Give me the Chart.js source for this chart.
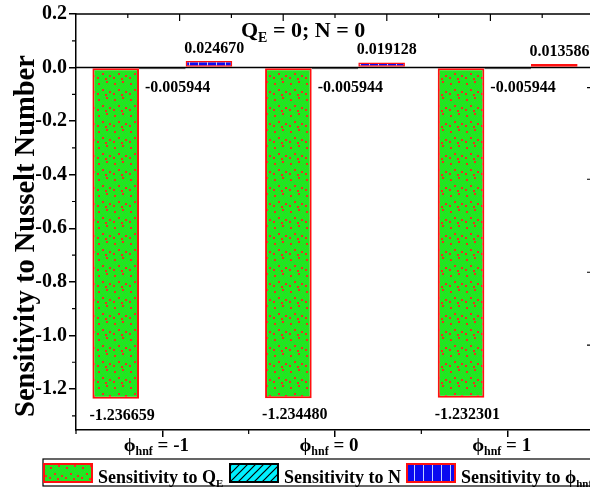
<!DOCTYPE html>
<html>
<head>
<meta charset="utf-8">
<script src="https://cdn.jsdelivr.net/npm/chart.js@4/dist/chart.umd.min.js"></script>
<style>
  html, body { margin: 0; padding: 0; overflow: hidden; background: #fff; }
  #wrap { position: relative; width: 600px; height: 498px; }
</style>
</head>
<body>
<div id="wrap"><canvas id="chart"></canvas></div>
<script>
// ϕhnf values along the x axis
const categories = ['-1', '0', '1'];
// Sensitivity of the Nusselt number to each parameter
const sensQE  = [-1.236659, -1.234480, -1.232301];
const sensN   = [-0.005944, -0.005944, -0.005944];
const sensPhi = [0.024670, 0.019128, 0.013586];
// Left axis tick labels
const yTicks = [0.2, 0.0, -0.2, -0.4, -0.6, -0.8, -1.0, -1.2];
const yMinor = [0.1, -0.1, -0.3, -0.5, -0.7, -0.9, -1.1, -1.3];
const yMin = -1.353, yMax = 0.2;

const SERIF = '"Liberation Serif", "Times New Roman", serif';

function makePattern(w, h, paint) {
  const c = document.createElement('canvas');
  c.width = w; c.height = h;
  const g = c.getContext('2d');
  paint(g, w, h);
  return g.createPattern(c, 'repeat');
}

// green fill with light speckle and red dots
const greenDots = makePattern(16, 16, (g, w, h) => {
  g.fillStyle = '#1fe81f';
  g.fillRect(0, 0, w, h);
  g.fillStyle = '#3cc83c';
  for (let i = 0; i < w * h; i++) {
    if ((i * 37 + 11) % 13 === 0) g.fillRect(i % w, Math.floor(i / w), 1, 1);
  }
  g.fillStyle = '#f03020';
  [[2, 3], [10, 1], [6, 9], [13, 11], [1, 13], [9, 14]].forEach(([x, y]) => g.fillRect(x, y, 2, 2));
});

// cyan fill with diagonal hatch
const cyanHatch = makePattern(8, 8, (g, w, h) => {
  g.fillStyle = '#00f0ff';
  g.fillRect(0, 0, w, h);
  g.strokeStyle = '#000';
  g.lineWidth = 1.2;
  g.beginPath();
  g.moveTo(-1, h + 1); g.lineTo(w + 1, -1);
  g.moveTo(-1, 1); g.lineTo(1, -1);
  g.moveTo(w - 1, h + 1); g.lineTo(w + 1, h - 1);
  g.stroke();
});

// blue fill with light vertical stripes
const blueStripes = makePattern(9, 4, (g, w, h) => {
  g.fillStyle = '#0a0af0';
  g.fillRect(0, 0, w, h);
  g.fillStyle = '#c0d0ff';
  g.fillRect(0, 0, 1, h);
});

// draw text made of normal and subscript pieces
function drawRich(ctx, parts, x, y, size, align) {
  const subSize = Math.round(size * 0.62);
  let total = 0;
  parts.forEach(p => {
    ctx.font = 'bold ' + (p.sub ? subSize : size) + 'px ' + SERIF;
    p.w = ctx.measureText(p.t).width;
    total += p.w;
  });
  let cx = align === 'center' ? x - total / 2 : x;
  ctx.textAlign = 'left';
  ctx.textBaseline = 'alphabetic';
  parts.forEach(p => {
    ctx.font = 'bold ' + (p.sub ? subSize : size) + 'px ' + SERIF;
    ctx.fillText(p.t, cx, p.sub ? y + size * 0.22 : y);
    cx += p.w;
  });
}

const frame = {
  id: 'frame',
  beforeDatasetsDraw(chart) {
    const { ctx, chartArea: a, scales: { y } } = chart;
    const y0 = y.getPixelForValue(0);
    ctx.save();
    ctx.strokeStyle = '#000';
    ctx.lineWidth = 1.5;
    ctx.beginPath();
    ctx.moveTo(a.left, y0); ctx.lineTo(a.right, y0);
    ctx.stroke();
    ctx.restore();
  },
  afterDraw(chart) {
    const { ctx, chartArea: a, scales: { x, y } } = chart;
    ctx.save();
    ctx.strokeStyle = '#000';
    ctx.fillStyle = '#000';
    // top and right border
    ctx.lineWidth = 1.5;
    ctx.beginPath();
    ctx.moveTo(a.left, a.top); ctx.lineTo(a.right, a.top); ctx.lineTo(a.right, a.bottom);
    ctx.stroke();

    ctx.lineWidth = 1.2;
    ctx.beginPath();
    // left minor ticks
    yMinor.forEach(v => {
      const p = y.getPixelForValue(v);
      ctx.moveTo(a.left - 4, p); ctx.lineTo(a.left, p);
    });
    // bottom minor ticks at category boundaries
    for (let i = 0; i <= categories.length; i++) {
      const p = x.getPixelForValue(i - 0.5);
      ctx.moveTo(p, a.bottom); ctx.lineTo(p, a.bottom + 4);
    }
    // top inner ticks
    for (let k = 1; k < 10; k++) {
      const p = a.left + (a.right - a.left) * k / 10;
      const len = k % 2 === 0 ? 7 : 4;
      ctx.moveTo(p, a.top); ctx.lineTo(p, a.top + len);
    }
    ctx.stroke();
    // right inner ticks
    ctx.beginPath();
    [-0.075, -0.417, -0.764, -1.036].forEach(v => {
      const p = y.getPixelForValue(v);
      ctx.moveTo(a.right, p); ctx.lineTo(a.right - 7, p);
    });
    ctx.stroke();
    ctx.strokeStyle = '#bbb';
    ctx.beginPath();
    [-0.227, -0.570, -0.880, -1.193].forEach(v => {
      const p = y.getPixelForValue(v);
      ctx.moveTo(a.right, p); ctx.lineTo(a.right - 4, p);
    });
    ctx.stroke();

    // category labels
    ctx.fillStyle = '#000';
    categories.forEach((c, i) => {
      const p = x.getPixelForValue(i);
      drawRich(ctx, [{ t: 'ϕ' }, { t: 'hnf', sub: true }, { t: ' = ' + c }], p - 6, a.bottom + 21, 19, 'center');
    });

    // title
    drawRich(ctx, [{ t: 'Q' }, { t: 'E', sub: true }, { t: ' = 0; N = 0' }], 241, 37, 22, 'left');

    // y axis title
    ctx.save();
    ctx.translate(34, 236);
    ctx.rotate(-Math.PI / 2);
    ctx.font = 'bold 28.5px ' + SERIF;
    ctx.textAlign = 'center';
    ctx.textBaseline = 'alphabetic';
    ctx.fillText('Sensitivity to Nusselt Number', 0, 0);
    ctx.restore();

    // value labels
    ctx.font = 'bold 16px ' + SERIF;
    ctx.textAlign = 'left';
    ctx.textBaseline = 'alphabetic';
    chart.data.datasets.forEach((ds, di) => {
      const meta = chart.getDatasetMeta(di);
      meta.data.forEach((bar, i) => {
        const v = ds.data[i];
        const left = bar.x - bar.width / 2;
        const txt = v.toFixed(6);
        if (di === 0) ctx.fillText(txt, left - 3, bar.y + 21);
        else if (di === 1) ctx.fillText(txt, left + 6, y.getPixelForValue(0) + 24);
        else ctx.fillText(txt, left - 1.5, bar.y - 8);
      });
    });

    // legend
    const ly = 459, lh = 27;
    ctx.lineWidth = 1.2;
    ctx.strokeStyle = '#000';
    ctx.strokeRect(43, ly, 620, lh);
    const items = [
      { x: 44, parts: [{ t: 'Sensitivity to Q' }, { t: 'E', sub: true }] },
      { x: 230, parts: [{ t: 'Sensitivity to N' }] },
      { x: 407, parts: [{ t: 'Sensitivity to ' }, { t: 'ϕ' }, { t: 'hnf', sub: true }] }
    ];
    items.forEach((it, di) => {
      const ds = chart.data.datasets[di];
      ctx.fillStyle = ds.backgroundColor;
      ctx.fillRect(it.x, ly + 5, 48, 18);
      ctx.strokeStyle = ds.borderColor;
      ctx.lineWidth = 2;
      ctx.strokeRect(it.x, ly + 5, 48, 18);
      ctx.fillStyle = '#000';
      drawRich(ctx, it.parts, it.x + 54, ly + 24, 18, 'left');
    });
    ctx.restore();
  }
};

new Chart(document.getElementById('chart'), {
  type: 'bar',
  data: {
    labels: categories,
    datasets: [
      { label: 'Sensitivity to QE', data: sensQE, backgroundColor: greenDots, borderColor: '#ff1010', borderWidth: 2, borderSkipped: false },
      { label: 'Sensitivity to N', data: sensN, backgroundColor: cyanHatch, borderColor: '#000', borderWidth: 2, borderSkipped: false },
      { label: 'Sensitivity to ϕhnf', data: sensPhi, backgroundColor: blueStripes, borderColor: '#ff1010', borderWidth: 1.5, borderSkipped: false }
    ]
  },
  options: {
    responsive: true,
    maintainAspectRatio: false,
    animation: false,
    devicePixelRatio: 1,
    layout: { padding: 0 },
    datasets: { bar: { categoryPercentage: 0.81, barPercentage: 1.0 } },
    plugins: { legend: { display: false }, tooltip: { enabled: false }, title: { display: false } },
    scales: {
      x: {
        position: 'bottom',
        offset: true,
        grid: { offset: false, drawOnChartArea: false, drawTicks: true, tickLength: 7, color: '#000', lineWidth: 1.5 },
        border: { display: true, color: '#000', width: 1.5 },
        ticks: { display: false },
        afterFit: s => { s.height = 68; }
      },
      y: {
        position: 'left',
        min: yMin,
        max: yMax,
        afterBuildTicks: s => { s.ticks = yTicks.map(v => ({ value: v })); },
        grid: { drawOnChartArea: false, drawTicks: true, tickLength: 7, color: '#000', lineWidth: 1.5 },
        border: { display: true, color: '#000', width: 1.5 },
        ticks: {
          color: '#000',
          padding: 2,
          font: { family: SERIF, size: 20, weight: 'bold' },
          callback: v => Number(v).toFixed(1)
        },
        afterFit: s => { s.width = 76; }
      }
    }
  },
  plugins: [frame, {
    id: 'margins',
    beforeLayout(chart) { chart.options.layout.padding = { top: 13, right: 6, left: 0, bottom: 0 }; }
  }]
});
</script>
</body>
</html>
